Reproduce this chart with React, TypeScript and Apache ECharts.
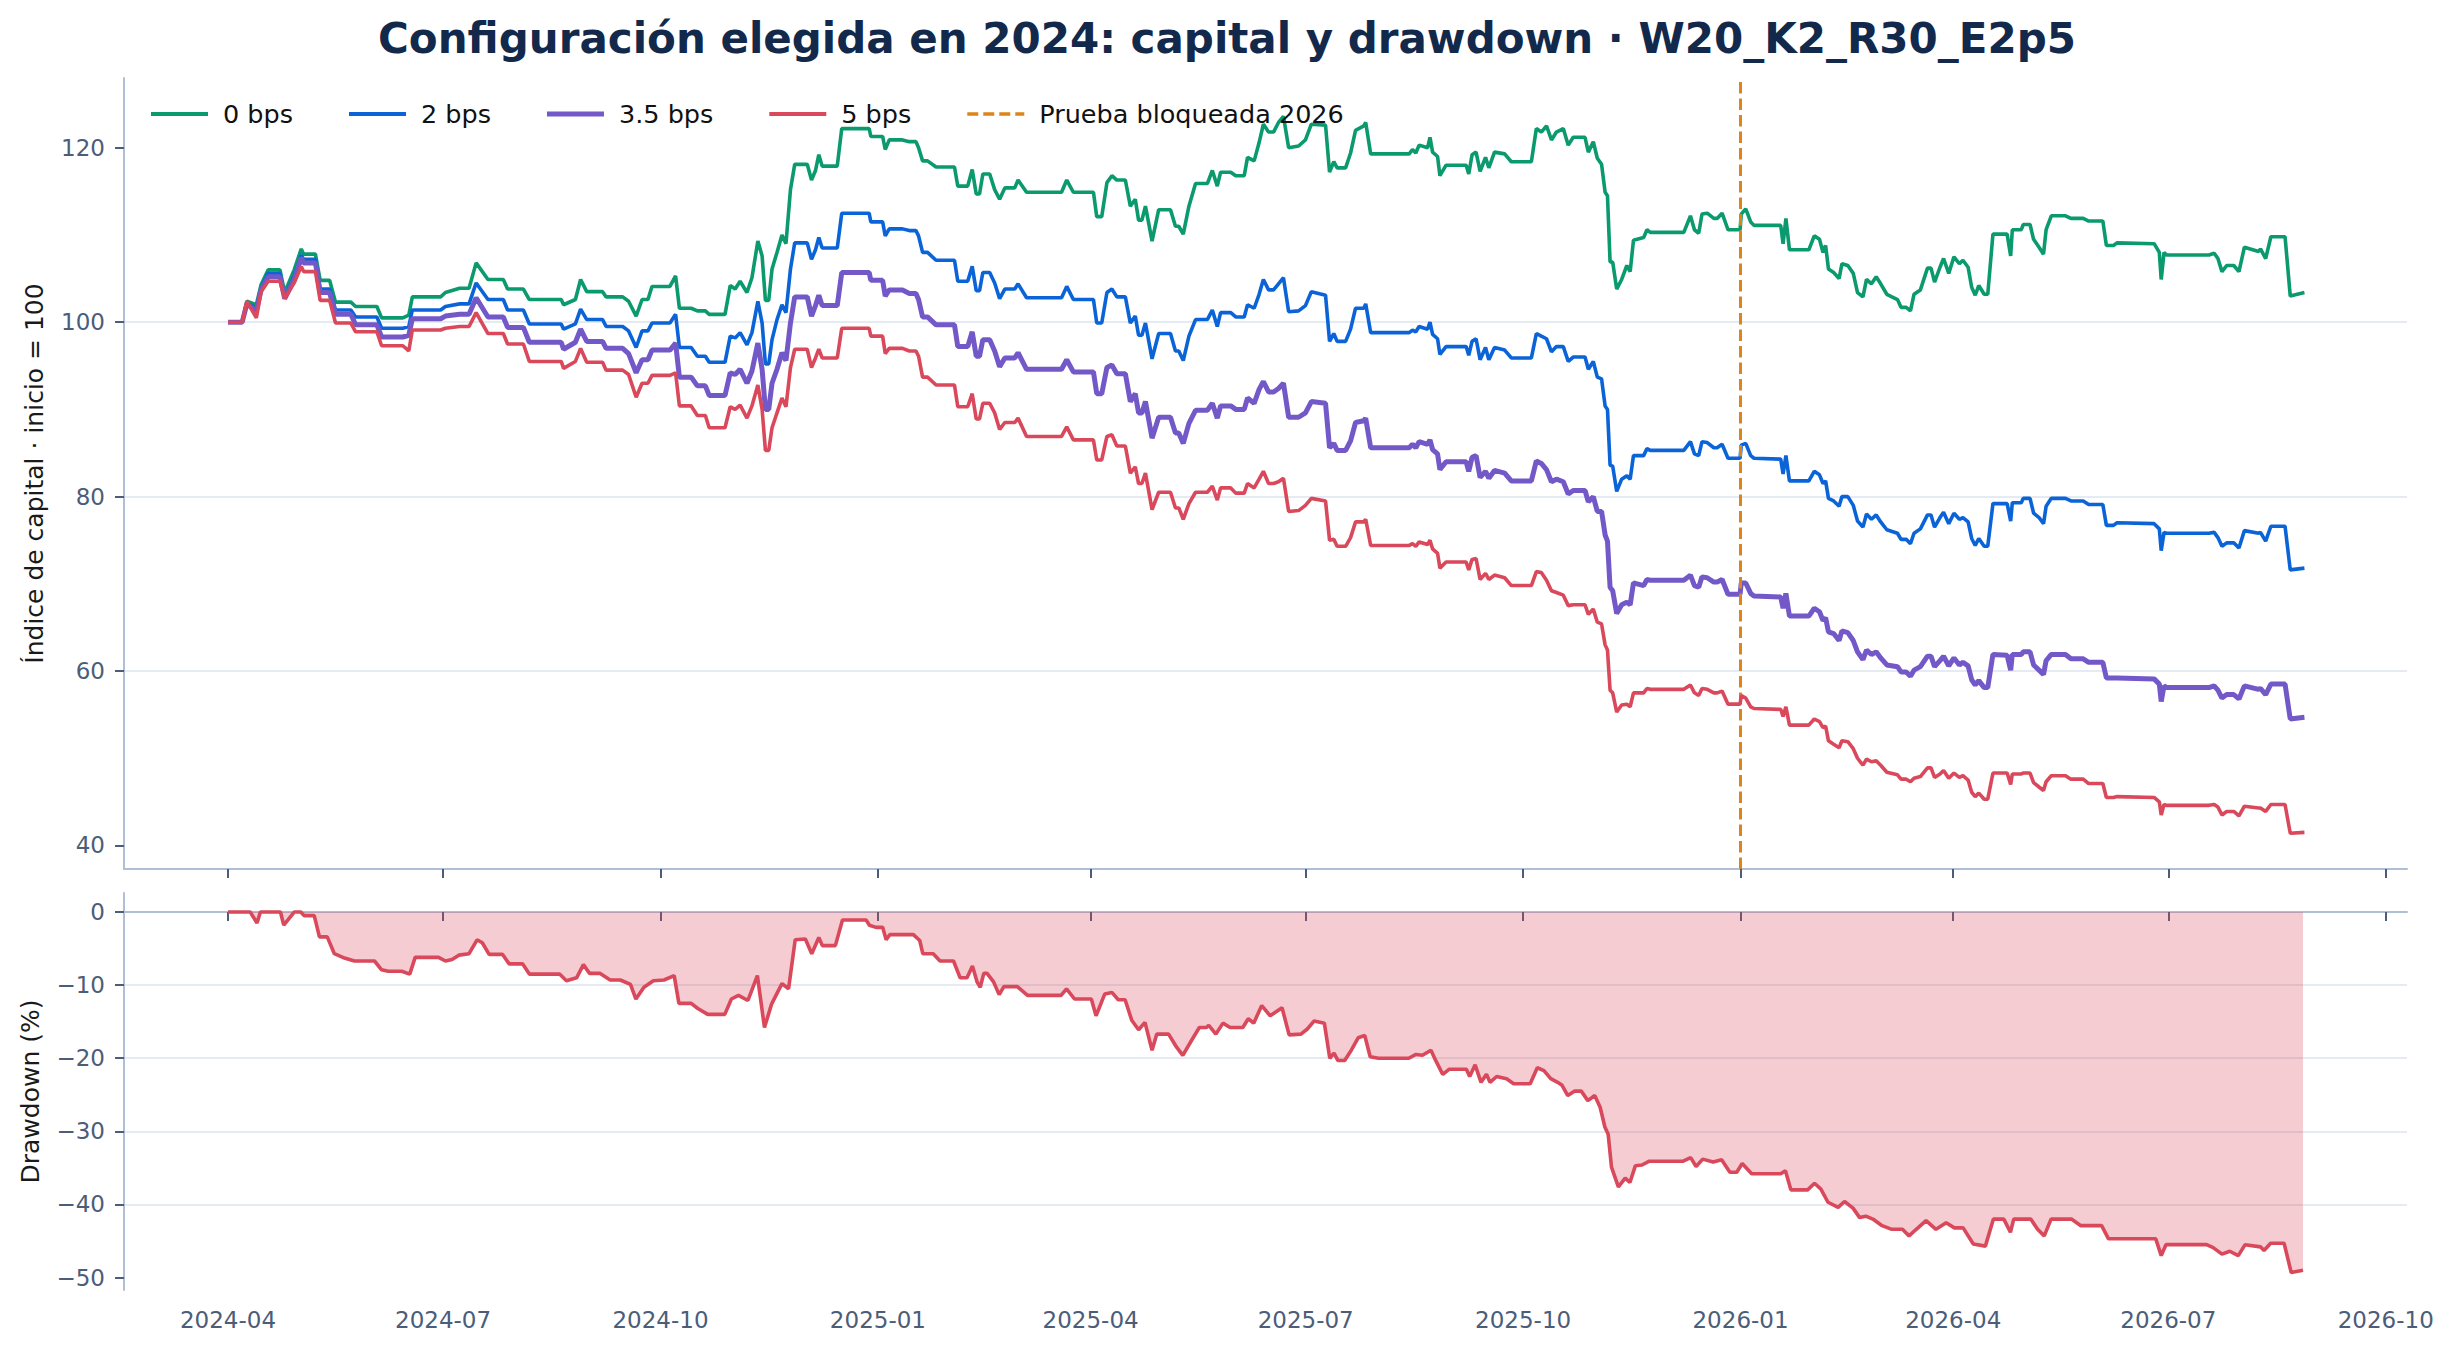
import * as echarts from "echarts";
import { useEffect, useRef } from "react";

// x values are day offsets from the first session (2024-04-01)
const START = Date.UTC(2024, 3, 1);
const DAY = 86400000;
const toTime = (d: number) => START + d * DAY;
const monthToTime = (m: string) => {
    const [y, mo] = m.split("-").map(Number);
    return Date.UTC(y, mo - 1, 1);
};

const chartTitle = "Configuración elegida en 2024: capital y drawdown · W20_K2_R30_E2p5";
const seriesNames = ["0 bps", "2 bps", "3.5 bps", "5 bps"];
const lockLabel = "Prueba bloqueada 2026";
const lockDate = "2026-01";
const tickMonths = [
    "2024-04", "2024-07", "2024-10", "2025-01", "2025-04", "2025-07",
    "2025-10", "2026-01", "2026-04", "2026-07", "2026-10"
];
const capTicks = [40, 60, 80, 100, 120];
const ddTicks = [-50, -40, -30, -20, -10, 0];

const capDays = [
    0, 6, 8, 12, 14, 17, 22, 24, 28, 31,
    32, 37, 39, 43, 45.5, 52, 54, 63, 65, 74,
    76.5, 78, 90, 92, 98, 102, 105, 110, 116.5, 118.3,
    125, 127.5, 141, 142, 147, 149.2, 151.8, 158.5, 160, 167,
    169.5, 172.7, 175.2, 177.7, 179.4, 187, 189.4, 191, 196, 198.6,
    202, 203.6, 210.3, 212.5, 214.6, 216.7, 219.6, 221.7, 224.2, 226,
    227.4, 228.8, 230.2, 232.3, 234.4, 236.1, 238, 239.8, 245.1, 246.9,
    248.6, 250, 251.4, 257.8, 259.7, 271.3, 272, 277, 278.1, 279.8,
    285.4, 288.3, 291.1, 292.2, 293.9, 296, 299.6, 307.4, 308.8, 313,
    314.9, 316.6, 318, 319.4, 322.3, 324.4, 326.5, 328.7, 332.9, 334.3,
    337.9, 352.7, 354.9, 357.7, 366.2, 367.6, 369.7, 371.9, 374, 376.1,
    379.7, 381.8, 383.9, 385.3, 386.7, 388.2, 391, 393.8, 398.8, 400.9,
    402.3, 404.2, 406.6, 409.4, 414.4, 416.5, 418.6, 420, 424.3, 426.4,
    430, 431.4, 434.2, 436.3, 438.1, 440.3, 442.4, 444.5, 446.6, 448.8,
    453, 455.9, 458.4, 464.4, 466.1, 467.9, 469.3, 472.9, 475, 477.1,
    480.6, 481.4, 483.5, 499.8, 501.2, 502.6, 504, 507.6, 508.6, 509.7,
    511.8, 512.8, 515.4, 523.9, 525, 526.4, 528.1, 529.8, 532.1, 533.5,
    535.9, 540.2, 543, 551.5, 553.6, 555.7, 557.9, 560, 562.1, 565,
    567.1, 569.2, 574.2, 575.6, 577.7, 579.4, 581.2, 582.7, 583.7, 584.8,
    585.9, 587.6, 589.7, 591.9, 593.3, 594.7, 599, 600.4, 601.8, 616,
    618.8, 620.5, 622.3, 623.7, 625.9, 628.7, 630.1, 632.2, 634.7, 639.8,
    640.3, 642.2, 644.3, 645.7, 657, 658, 659.2, 660.7, 668.9, 671.2,
    673.4, 674.9, 676, 677.2, 679.4, 681.7, 682.9, 685.4, 687.7, 689.5,
    691.8, 693.3, 695.4, 697.4, 699.3, 701.9, 706.4, 707.9, 710.1, 711.9,
    713.4, 716.1, 719.1, 720.6, 722.1, 724.4, 725.9, 728.1, 730.3, 732.6,
    734.1, 736.3, 737.8, 739.3, 740.8, 743.1, 744.6, 746.8, 752.8, 754.3,
    755, 758.8, 759.6, 762.5, 764, 766.3, 768.2, 769.3, 771.5, 777.5,
    779.8, 785, 787.3, 793.3, 794.8, 797.8, 799.3, 815, 817.2, 818,
    819.2, 820.2, 838.2, 840.4, 842, 843.7, 845.7, 848.7, 850.9, 853.2,
    859.2, 860, 862.2, 864.4, 870.4, 872.6, 878.6
];

const cap0 = [
    100, 100, 102.4, 102.0, 104.3, 106.0, 106.0, 103.4, 106.0, 108.4,
    107.8, 107.8, 104.8, 104.8, 102.3, 102.3, 101.8, 101.8, 100.5, 100.5,
    100.8, 102.9, 102.9, 103.4, 103.9, 103.9, 106.8, 104.9, 104.9, 103.8,
    103.8, 102.6, 102.6, 102.0, 102.6, 104.9, 103.5, 103.5, 102.9, 102.9,
    102.4, 100.7, 102.6, 102.6, 104.1, 104.1, 105.3, 101.6, 101.6, 101.3,
    101.3, 100.9, 100.9, 104.2, 103.8, 104.7, 103.4, 105.1, 109.3, 107.6,
    102.5, 102.5, 106.1, 108.0, 110.0, 109.0, 115.2, 118.1, 118.1, 116.3,
    117.4, 119.2, 117.9, 117.9, 122.2, 122.2, 121.3, 121.3, 119.8, 120.9,
    120.9, 120.7, 120.7, 120.0, 118.5, 118.5, 117.8, 117.8, 115.6, 115.6,
    117.5, 114.7, 114.7, 117.0, 117.0, 115.2, 114.1, 115.4, 115.4, 116.3,
    114.9, 114.9, 116.3, 114.9, 114.9, 112.1, 112.1, 116.0, 116.8, 116.3,
    116.3, 113.3, 114.1, 111.7, 111.7, 113.3, 109.3, 112.9, 112.9, 111.0,
    111.0, 110.1, 113.3, 115.9, 115.9, 117.4, 115.6, 117.2, 117.2, 116.8,
    116.8, 118.9, 118.5, 120.6, 122.7, 121.8, 121.8, 122.9, 123.6, 120.0,
    120.2, 120.9, 122.7, 122.6, 117.2, 118.4, 117.7, 117.7, 119.4, 122.0,
    122.5, 122.9, 119.3, 119.3, 119.8, 119.4, 120.3, 120.0, 121.2, 119.5,
    119.0, 116.8, 118.0, 118.0, 117.0, 119.2, 119.5, 117.3, 118.9, 117.7,
    119.5, 119.3, 118.4, 118.4, 122.2, 121.8, 122.5, 120.9, 121.8, 122.2,
    120.3, 121.2, 121.2, 119.5, 120.7, 118.8, 118.1, 114.9, 114.5, 106.9,
    106.9, 103.8, 104.9, 106.5, 105.8, 109.4, 109.7, 110.6, 110.3, 110.3,
    112.2, 110.6, 110.2, 112.4, 112.5, 111.9, 111.9, 112.5, 110.6, 110.6,
    112.4, 113.0, 111.5, 111.1, 111.1, 109.0, 111.9, 108.3, 108.3, 109.9,
    109.5, 108.0, 108.8, 106.1, 105.7, 105.0, 106.7, 106.5, 105.6, 103.4,
    102.9, 104.9, 104.4, 105.2, 104.4, 103.2, 102.6, 101.7, 101.7, 101.3,
    103.2, 103.7, 106.2, 106.2, 104.6, 106.3, 107.3, 105.6, 107.5, 106.7,
    107.1, 106.3, 104.0, 103.1, 104.2, 103.2, 103.2, 110.1, 110.1, 107.6,
    110.6, 110.6, 111.2, 111.2, 109.5, 108.6, 107.8, 110.6, 112.2, 112.2,
    111.9, 111.9, 111.6, 111.6, 108.8, 108.8, 109.1, 109.0, 108.0, 104.9,
    108.0, 107.7, 107.7, 107.9, 107.3, 105.8, 106.5, 106.5, 105.8, 108.6,
    108.1, 108.4, 107.3, 109.8, 109.8, 103.0, 103.4
];

const cap2 = [
    100, 100, 102.2, 101.6, 103.9, 105.6, 105.6, 102.8, 105.3, 107.7,
    107.2, 107.2, 103.8, 103.8, 101.4, 101.4, 100.6, 100.6, 99.3, 99.3,
    99.5, 101.4, 101.4, 101.8, 102.1, 102.1, 104.5, 102.6, 102.6, 101.4,
    101.4, 99.8, 99.8, 99.2, 99.8, 101.5, 100.3, 100.3, 99.5, 99.5,
    99.0, 97.1, 99.0, 99.0, 99.9, 99.9, 100.9, 97.1, 97.1, 96.1,
    96.1, 95.4, 95.4, 98.4, 98.2, 98.8, 97.4, 98.8, 102.4, 99.9,
    95.2, 95.2, 98.0, 100.3, 102.0, 101.1, 106.1, 109.1, 109.1, 107.2,
    108.3, 109.7, 108.5, 108.5, 112.5, 112.5, 111.5, 111.5, 109.9, 110.7,
    110.7, 110.5, 110.5, 109.9, 108.0, 108.0, 107.1, 107.1, 104.7, 104.7,
    106.4, 103.6, 103.6, 105.7, 105.7, 104.5, 102.7, 103.8, 103.8, 104.4,
    102.8, 102.8, 104.1, 102.6, 102.6, 99.9, 99.9, 103.4, 103.8, 102.9,
    102.9, 99.9, 100.7, 98.5, 98.5, 99.9, 95.8, 98.7, 98.7, 96.7,
    96.7, 95.6, 98.4, 100.3, 100.3, 101.4, 99.5, 101.1, 101.1, 100.6,
    100.6, 102.0, 101.6, 103.2, 104.9, 103.7, 103.7, 104.4, 105.1, 101.2,
    101.3, 101.9, 103.5, 103.1, 97.8, 98.7, 97.8, 97.8, 99.2, 101.6,
    101.6, 102.1, 98.8, 98.8, 99.1, 98.9, 99.5, 99.2, 100.0, 98.6,
    98.1, 96.3, 97.2, 97.2, 96.2, 97.8, 98.1, 95.7, 97.1, 95.7,
    97.1, 96.8, 95.9, 95.9, 98.7, 98.4, 98.1, 96.6, 97.2, 97.2,
    95.5, 96.0, 96.0, 94.6, 95.5, 93.7, 93.5, 90.4, 90.0, 83.6,
    83.5, 80.6, 82.0, 82.4, 82.0, 84.7, 84.7, 85.5, 85.3, 85.3,
    86.3, 84.9, 84.7, 86.3, 86.2, 85.6, 85.6, 86.0, 84.4, 84.4,
    85.9, 86.1, 84.7, 84.4, 84.3, 82.6, 84.7, 81.8, 81.8, 82.9,
    82.5, 81.5, 81.8, 79.8, 79.5, 78.9, 80.0, 80.0, 79.0, 77.2,
    76.5, 78.0, 77.4, 77.9, 77.1, 76.2, 75.8, 75.1, 75.1, 74.6,
    75.8, 76.3, 77.9, 77.9, 76.5, 77.6, 78.2, 76.9, 78.1, 77.4,
    77.6, 77.1, 75.2, 74.4, 75.2, 74.3, 74.3, 79.2, 79.2, 77.2,
    79.3, 79.3, 79.8, 79.8, 78.1, 77.6, 76.9, 78.9, 79.8, 79.8,
    79.5, 79.5, 79.1, 79.1, 76.7, 76.7, 77.0, 76.9, 76.3, 73.8,
    75.9, 75.8, 75.8, 75.9, 75.3, 74.3, 74.7, 74.7, 74.1, 76.1,
    75.8, 75.9, 74.9, 76.6, 76.6, 71.6, 71.8
];

const cap35 = [
    100, 100, 102.1, 101.3, 103.7, 105.2, 105.2, 102.7, 104.9, 107.4,
    106.8, 106.8, 103.4, 103.4, 100.9, 100.9, 99.7, 99.7, 98.3, 98.3,
    98.5, 100.4, 100.4, 100.7, 100.9, 100.9, 102.8, 100.6, 100.6, 99.4,
    99.4, 97.7, 97.7, 96.9, 97.7, 99.2, 97.8, 97.8, 97.0, 97.0,
    96.4, 94.2, 95.7, 95.7, 96.8, 96.8, 97.6, 93.7, 93.7, 92.7,
    92.7, 91.6, 91.6, 94.2, 94.0, 94.6, 93.0, 94.4, 97.6, 94.6,
    90.0, 90.0, 93.0, 94.6, 96.5, 95.6, 99.9, 102.9, 102.9, 100.7,
    101.9, 103.1, 101.9, 101.9, 105.7, 105.7, 104.8, 104.8, 103.0, 103.7,
    103.7, 103.3, 103.3, 102.6, 100.6, 100.6, 99.7, 99.7, 97.2, 97.2,
    98.9, 96.1, 96.1, 98.0, 98.0, 96.7, 94.9, 95.9, 95.9, 96.5,
    94.6, 94.6, 95.7, 94.3, 94.3, 91.8, 91.8, 94.8, 95.1, 94.1,
    94.1, 90.9, 91.8, 89.6, 89.6, 90.9, 86.7, 89.1, 89.1, 87.3,
    87.3, 86.1, 88.4, 89.9, 89.9, 90.7, 89.0, 90.4, 90.4, 90.0,
    90.0, 91.3, 90.7, 92.3, 93.2, 92.0, 92.0, 92.4, 93.0, 89.1,
    89.1, 89.6, 90.9, 90.7, 85.6, 86.1, 85.3, 85.3, 86.4, 88.5,
    88.7, 89.0, 85.6, 85.6, 86.0, 85.6, 86.3, 86.0, 86.5, 85.4,
    84.9, 83.1, 84.0, 84.0, 82.9, 84.5, 84.7, 82.2, 82.9, 82.1,
    83.0, 82.7, 81.8, 81.8, 84.1, 83.8, 83.1, 81.7, 82.0, 81.7,
    80.3, 80.7, 80.7, 79.4, 80.0, 78.3, 78.3, 75.6, 74.9, 69.6,
    69.2, 66.6, 67.6, 67.9, 67.6, 70.1, 69.8, 70.5, 70.4, 70.4,
    71.0, 69.8, 69.6, 70.8, 70.7, 70.2, 70.2, 70.5, 68.8, 68.8,
    70.1, 70.1, 68.9, 68.6, 68.5, 67.2, 68.9, 66.3, 66.3, 67.2,
    66.8, 65.8, 66.1, 64.5, 64.3, 63.5, 64.6, 64.4, 63.5, 62.2,
    61.3, 62.4, 61.9, 62.2, 61.5, 60.7, 60.5, 59.9, 59.9, 59.4,
    60.1, 60.5, 61.7, 61.7, 60.5, 61.2, 61.7, 60.6, 61.5, 60.7,
    61.0, 60.6, 59.0, 58.4, 58.9, 58.1, 58.1, 61.9, 61.8, 60.1,
    61.9, 61.9, 62.2, 62.2, 60.7, 60.1, 59.6, 61.2, 61.9, 61.9,
    61.4, 61.4, 61.0, 61.0, 59.2, 59.2, 59.2, 59.1, 58.5, 56.5,
    58.3, 58.1, 58.1, 58.3, 57.8, 56.9, 57.3, 57.3, 56.8, 58.3,
    57.9, 58.0, 57.3, 58.5, 58.5, 54.5, 54.7
];

const cap5 = [
    100, 100, 102.4, 100.5, 103.5, 104.7, 104.7, 102.7, 104.5, 106.4,
    105.8, 105.8, 102.5, 102.5, 99.9, 99.9, 98.9, 98.9, 97.3, 97.3,
    96.7, 99.1, 99.1, 99.3, 99.5, 99.5, 101.1, 98.7, 98.7, 97.5,
    97.5, 95.5, 95.5, 94.7, 95.5, 97.0, 95.4, 95.4, 94.5, 94.5,
    94.0, 91.4, 93.0, 93.0, 93.9, 93.9, 94.2, 90.4, 90.4, 89.3,
    89.3, 87.9, 87.9, 90.3, 90.0, 90.5, 89.0, 90.4, 92.8, 90.0,
    85.3, 85.3, 87.9, 89.6, 91.3, 90.3, 94.8, 96.9, 96.9, 94.8,
    95.9, 96.9, 95.9, 95.9, 99.3, 99.3, 98.4, 98.4, 96.4, 97.0,
    97.0, 96.7, 96.7, 96.1, 93.7, 93.7, 92.8, 92.8, 90.3, 90.3,
    91.8, 88.9, 88.9, 90.7, 90.7, 89.6, 87.7, 88.5, 88.5, 89.0,
    86.9, 86.9, 88.0, 86.5, 86.5, 84.2, 84.2, 86.9, 87.1, 85.8,
    85.8, 82.7, 83.4, 81.5, 81.5, 82.7, 78.5, 80.5, 80.5, 78.7,
    78.7, 77.4, 79.2, 80.5, 80.5, 81.2, 79.6, 81.0, 81.0, 80.4,
    80.4, 81.5, 81.0, 82.0, 82.9, 81.5, 81.5, 81.7, 82.1, 78.3,
    78.4, 79.0, 79.8, 79.5, 75.0, 75.1, 74.3, 74.3, 75.3, 77.1,
    77.1, 77.4, 74.4, 74.4, 74.6, 74.3, 74.8, 74.5, 75.0, 74.0,
    73.5, 71.8, 72.5, 72.5, 71.6, 72.8, 72.9, 70.5, 71.2, 70.5,
    71.0, 70.7, 69.8, 69.8, 71.4, 71.3, 70.4, 69.2, 69.0, 68.7,
    67.5, 67.6, 67.6, 66.5, 67.1, 65.6, 65.4, 63.0, 62.4, 57.8,
    57.5, 55.3, 56.1, 56.2, 55.9, 57.5, 57.5, 58.0, 57.9, 57.9,
    58.4, 57.5, 57.2, 58.0, 57.9, 57.5, 57.5, 57.7, 56.2, 56.2,
    57.2, 56.9, 55.9, 55.7, 55.6, 54.8, 55.9, 53.8, 53.8, 54.5,
    54.2, 53.5, 53.7, 52.0, 51.6, 51.2, 52.0, 51.9, 51.1, 50.0,
    49.2, 49.9, 49.6, 49.7, 49.2, 48.4, 48.1, 47.6, 47.6, 47.3,
    47.7, 47.9, 48.9, 48.9, 47.8, 48.2, 48.6, 47.7, 48.3, 47.8,
    48.0, 47.5, 46.1, 45.6, 46.0, 45.3, 45.3, 48.3, 48.3, 47.0,
    48.2, 48.2, 48.3, 48.3, 47.2, 46.7, 46.3, 47.3, 48.0, 48.0,
    47.6, 47.6, 47.1, 47.1, 45.5, 45.5, 45.6, 45.5, 45.0, 43.5,
    44.7, 44.6, 44.6, 44.7, 44.4, 43.5, 43.9, 43.9, 43.4, 44.5,
    44.3, 44.3, 43.9, 44.7, 44.7, 41.4, 41.5
];

const ddDays = [
    0, 9.4, 12.3, 13.7, 22.2, 23.6, 28, 30.8, 32.2, 36.5,
    38.7, 42, 45, 49.3, 53.5, 62, 65, 67.8, 73.5, 76.9,
    79.2, 89.1, 92, 94.8, 97.7, 102, 105.4, 107.6, 110.5, 116.2,
    119, 124.7, 127.6, 140.4, 143.2, 147.5, 150.4, 153, 157.5, 161.7,
    166, 170.3, 172.6, 176, 180, 184.5, 188.8, 190.8, 196, 198.8,
    203, 210.2, 213, 216, 220, 224, 227, 230, 234.4, 237.2,
    240, 244.3, 247, 250, 251.5, 257, 260, 270, 271.4, 274.2,
    277, 278.5, 280, 290, 292.7, 294, 298.4, 301.3, 307, 309.8,
    312.7, 315, 317, 318.3, 319.8, 321.2, 324, 326.3, 328.3, 334,
    338.3, 352.5, 354.8, 358.2, 365.3, 367.3, 371, 374, 376.7, 379.6,
    382.4, 385.3, 388, 391, 393, 398, 401, 404, 408, 411,
    414, 415, 418, 421, 424, 429.4, 431.7, 434, 437.4, 441,
    446, 449, 454, 456.7, 459.6, 463.9, 466.2, 468, 469.6, 472.5,
    475.3, 478.2, 481, 483.3, 486.8, 499.6, 502.5, 505.4, 509, 511,
    514, 516.8, 524, 525.4, 527.7, 530.2, 532.5, 534, 536.8, 541,
    544, 551, 554, 556.8, 559.7, 562.6, 564.5, 566.9, 569.7, 572.6,
    575.4, 578.3, 580.6, 582.6, 584, 585.4, 588.3, 591.2, 593.2, 595.5,
    598.3, 601.2, 615.5, 618.9, 621.2, 624, 628.4, 632, 635.5, 638.4,
    640.7, 644.7, 657, 659, 661.3, 668.4, 671.3, 674, 677, 681.3,
    684, 687.6, 690.4, 693, 696, 699.9, 704, 708.5, 711.3, 714,
    718.5, 722.7, 727, 730.5, 734.2, 738.5, 743.6, 747, 751.4, 754.2,
    755.6, 762.8, 765.7, 768.5, 771.4, 780, 784, 792.8, 795.7, 815.7,
    818, 820, 837.2, 840, 843.7, 847, 850.6, 853.5, 860, 861.5,
    864.3, 870, 873, 878
];

const ddValues = [
    0, 0, -1.5, 0, 0, -1.8, 0, 0, -0.5, -0.5,
    -3.4, -3.4, -5.7, -6.3, -6.7, -6.7, -7.9, -8.1, -8.1, -8.5,
    -6.2, -6.2, -6.7, -6.5, -5.9, -5.7, -3.8, -4.2, -5.8, -5.8,
    -7.1, -7.1, -8.5, -8.5, -9.4, -9.0, -7.2, -8.4, -8.4, -9.3,
    -9.3, -9.9, -11.9, -10.3, -9.4, -9.3, -8.7, -12.5, -12.5, -13.2,
    -14.0, -14.0, -11.9, -11.4, -12.1, -8.7, -15.8, -12.6, -9.8, -10.5,
    -3.8, -3.7, -5.7, -3.5, -4.6, -4.6, -1.1, -1.1, -1.8, -2.1,
    -2.1, -3.8, -3.1, -3.1, -3.9, -5.7, -5.7, -6.7, -6.7, -9.0,
    -9.0, -7.4, -9.6, -10.3, -8.4, -8.4, -9.6, -11.3, -10.2, -10.2,
    -11.4, -11.4, -10.5, -11.9, -11.9, -14.2, -11.2, -11.0, -12.0, -12.0,
    -14.8, -16.1, -15.1, -18.9, -16.7, -16.7, -18.3, -19.6, -17.4, -15.8,
    -15.8, -15.5, -16.7, -15.2, -15.8, -15.8, -14.6, -15.2, -12.8, -14.2,
    -13.1, -16.8, -16.7, -16.0, -14.9, -15.2, -20.0, -19.3, -20.3, -20.3,
    -18.9, -17.2, -16.9, -19.8, -20.0, -20.0, -19.5, -19.6, -18.9, -20.3,
    -22.2, -21.5, -21.5, -22.5, -20.9, -23.3, -22.2, -23.3, -22.5, -22.8,
    -23.5, -23.5, -21.3, -21.7, -22.8, -23.3, -23.7, -25.1, -24.5, -24.5,
    -25.8, -25.1, -26.7, -29.4, -30.4, -34.9, -37.6, -36.4, -37.0, -34.7,
    -34.6, -34.1, -34.1, -33.6, -34.8, -33.8, -34.2, -33.9, -35.6, -35.6,
    -34.4, -35.8, -35.8, -35.4, -38.0, -38.0, -37.1, -37.9, -39.7, -40.4,
    -39.6, -40.5, -41.8, -41.6, -42.0, -42.9, -43.4, -43.4, -44.3, -43.5,
    -42.2, -43.4, -42.5, -43.2, -43.2, -45.4, -45.7, -42.0, -42.0, -43.8,
    -42.0, -42.0, -43.4, -44.3, -42.0, -42.0, -42.9, -42.9, -44.7, -44.7,
    -47.0, -45.5, -45.5, -45.9, -46.8, -46.4, -47.0, -45.5, -45.8, -46.3,
    -45.3, -45.3, -49.3, -49.0
];

const FONT = "DejaVu Sans";
const COLORS = ["#0b9a6d", "#0a64d8", "#7358c8", "#d9485b"];
const WIDTHS = [3.6, 3.6, 5, 3.6];
const ORANGE = "#dc8518";
const TICK_TEXT = "#4b5d78";
const SPINE = "#afc0d6";
const GRID_LINE = "#e5ebf3";
const DASH = [11.5, 5];

// legend glyphs: plain bars, and a dashed bar for the lock line
const barIcon = (h: number) => `path://M0 0H57V${h}H0Z`;
const dashIcon = "path://M0 0H11V3.6H0ZM16 0H27V3.6H16ZM32 0H43V3.6H32ZM48 0H57V3.6H48Z";

const fmtMonth = (v: number) => {
    const d = new Date(v);
    return `${d.getUTCFullYear()}-${String(d.getUTCMonth() + 1).padStart(2, "0")}`;
};
const fmtNum = (v: number) => String(v).replace("-", "\u2212");

export default function App() {
    const chartRef = useRef<HTMLDivElement>(null);

    useEffect(() => {
        if (!chartRef.current) return;
        const chart = echarts.init(chartRef.current, undefined, { renderer: "svg" });

        const tickTimes = tickMonths.map(monthToTime);
        const xMin = toTime(-44);
        const xMax = toTime(922);
        const capSeries = [cap0, cap2, cap35, cap5];

        const xAxisBase = {
            type: "value" as const,
            min: xMin,
            max: xMax,
            axisLine: { show: true, lineStyle: { color: SPINE, width: 2 } },
            axisTick: {
                show: true,
                customValues: tickTimes,
                length: 9,
                lineStyle: { color: TICK_TEXT, width: 2 }
            },
            splitLine: { show: false }
        };

        const yAxisBase = {
            type: "value" as const,
            nameLocation: "middle" as const,
            nameTextStyle: { fontFamily: FONT, fontSize: 25, color: "#1a1a1a" },
            axisLine: { show: true, lineStyle: { color: SPINE, width: 2 } },
            splitLine: {
                show: true,
                showMinLine: false,
                showMaxLine: false,
                lineStyle: { color: GRID_LINE, width: 2 }
            }
        };

        const option: echarts.EChartsOption = {
            animation: false,
            backgroundColor: "#ffffff",
            textStyle: { fontFamily: FONT },
            title: {
                text: chartTitle,
                left: "center",
                top: 12,
                textStyle: {
                    fontFamily: FONT,
                    fontSize: 42,
                    fontWeight: "bold",
                    color: "#13294b"
                }
            },
            legend: {
                left: 146,
                top: 96,
                itemWidth: 57,
                itemHeight: 14,
                itemGap: 56,
                itemStyle: { borderWidth: 0 },
                textStyle: {
                    fontFamily: FONT,
                    fontSize: 25.5,
                    color: "#111111",
                    padding: [0, 0, 0, 10]
                },
                data: [
                    ...seriesNames.map((name, i) => ({ name, icon: barIcon(i === 2 ? 5.2 : 4) })),
                    { name: lockLabel, icon: dashIcon }
                ]
            },
            grid: [
                { left: 124, right: 47, top: 78, height: 791 },
                { left: 124, right: 47, top: 893, height: 397 }
            ],
            xAxis: [
                { ...xAxisBase, gridIndex: 0, axisLabel: { show: false } },
                {
                    ...xAxisBase,
                    gridIndex: 1,
                    axisLabel: {
                        show: true,
                        customValues: tickTimes,
                        formatter: (v: number) => fmtMonth(v),
                        fontFamily: FONT,
                        fontSize: 23,
                        color: TICK_TEXT,
                        margin: 18
                    }
                }
            ],
            yAxis: [
                {
                    ...yAxisBase,
                    gridIndex: 0,
                    min: 37.3,
                    max: 128,
                    name: "Índice de capital · inicio = 100",
                    nameGap: 77,
                    axisTick: {
                        show: true,
                        customValues: capTicks,
                        length: 9,
                        lineStyle: { color: TICK_TEXT, width: 2 }
                    },
                    axisLabel: {
                        customValues: capTicks,
                        formatter: (v: number) => fmtNum(v),
                        fontFamily: FONT,
                        fontSize: 23,
                        color: TICK_TEXT,
                        margin: 19
                    }
                },
                {
                    ...yAxisBase,
                    gridIndex: 1,
                    min: -51.7,
                    max: 2.6,
                    name: "Drawdown (%)",
                    nameGap: 81,
                    axisTick: {
                        show: true,
                        customValues: ddTicks,
                        length: 9,
                        lineStyle: { color: TICK_TEXT, width: 2 }
                    },
                    axisLabel: {
                        customValues: ddTicks,
                        formatter: (v: number) => fmtNum(v),
                        fontFamily: FONT,
                        fontSize: 23,
                        color: TICK_TEXT,
                        margin: 19
                    }
                }
            ],
            series: [
                ...seriesNames.map((name, i) => ({
                    name,
                    type: "line" as const,
                    xAxisIndex: 0,
                    yAxisIndex: 0,
                    symbol: "none",
                    data: capDays.map((d, j) => [toTime(d), capSeries[i][j]]),
                    lineStyle: { color: COLORS[i], width: WIDTHS[i] },
                    itemStyle: { color: COLORS[i] },
                    z: 2 + i
                })),
                {
                    name: lockLabel,
                    type: "line",
                    xAxisIndex: 0,
                    yAxisIndex: 0,
                    symbol: "none",
                    data: [],
                    lineStyle: { color: ORANGE, width: 3, type: DASH },
                    itemStyle: { color: ORANGE },
                    z: 10,
                    markLine: {
                        silent: true,
                        symbol: ["none", "none"],
                        label: { show: false },
                        lineStyle: { color: ORANGE, width: 3, type: DASH },
                        data: [{ xAxis: monthToTime(lockDate) }]
                    }
                },
                {
                    name: "Drawdown",
                    type: "line",
                    xAxisIndex: 1,
                    yAxisIndex: 1,
                    symbol: "none",
                    data: ddDays.map((d, j) => [toTime(d), ddValues[j]]),
                    lineStyle: { color: COLORS[3], width: 3.6 },
                    itemStyle: { color: COLORS[3] },
                    areaStyle: { color: COLORS[3], opacity: 0.28 }
                }
            ]
        };

        chart.setOption(option);

        return () => {
            chart.dispose();
        };
    }, []);

    return (
        <div
            ref={chartRef}
            style={{ position: "absolute", left: 0, top: 0, width: 2454, height: 1352 }}
        />
    );
}
